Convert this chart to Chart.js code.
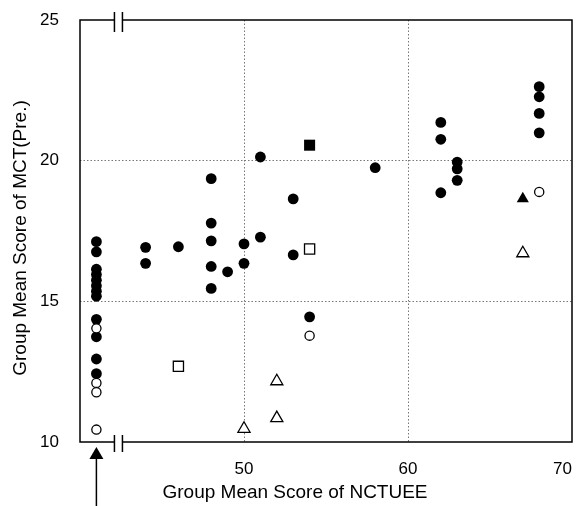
<!DOCTYPE html>
<html>
<head>
<meta charset="utf-8">
<title>Group Mean Score of MCT(Pre.) vs NCTUEE</title>
<script src="https://cdn.jsdelivr.net/npm/chart.js@4.4.0/dist/chart.umd.min.js"></script>
<style>
    html, body { margin: 0; padding: 0; background: #fff; }
    #wrap { width: 583px; height: 506px; }
</style>
</head>
<body>
<div id="wrap"><canvas id="scoreChart"></canvas></div>
<script>
/****************************** Data ********************************/
// x = group mean score of NCTUEE, y = group mean score of MCT (pre)
// x = 41 is the off-scale column (the groups marked by the arrow)
const offScaleX = 41;

const filledCircleX = [41, 41, 41, 41, 41, 41, 41, 41, 41, 41, 41, 41,
    44, 44, 46, 48, 48, 48, 48, 48, 49, 50, 50, 51, 51, 53, 53, 54, 58,
    62, 62, 62, 63, 63, 63, 68, 68, 68, 68];
const filledCircleY = [17.12, 16.76, 16.14, 15.95, 15.75, 15.55, 15.36, 15.18, 14.36, 13.74, 12.95, 12.43,
    16.92, 16.35, 16.94, 19.36, 17.78, 17.15, 16.24, 15.46, 16.05, 17.04, 16.35, 20.13, 17.28, 18.64, 16.65, 14.45, 19.75,
    21.36, 20.76, 18.86, 19.95, 19.71, 19.30, 22.63, 22.27, 21.68, 20.99];

const openCircleX = [41, 41, 41, 41, 54, 68];
const openCircleY = [14.04, 12.10, 11.77, 10.44, 13.78, 18.89];

const filledSquareX = [54];
const filledSquareY = [20.55];

const openSquareX = [46, 54];
const openSquareY = [12.69, 16.86];

const filledTriangleX = [67];
const filledTriangleY = [18.65];

const openTriangleX = [50, 52, 52, 67];
const openTriangleY = [10.47, 12.16, 10.85, 16.71];

const xMin = 40;
const xTicks = [50, 60, 70];
const yTicks = [10, 15, 20, 25];

const xTitle = 'Group Mean Score of NCTUEE';
const yTitle = 'Group Mean Score of MCT(Pre.)';

/****************************** Chart ********************************/
const FONT = '"Liberation Sans", Arial, sans-serif';

function toPoints(xs, ys) {
    return xs.map((x, i) => ({ x: x, y: ys[i] }));
}

// frame with the axis break, the arrow and the axis titles
const framePlugin = {
    id: 'frame',
    afterDraw(chart) {
        const { ctx, chartArea: a, scales: { x } } = chart;
        ctx.save();
        ctx.strokeStyle = '#000';
        ctx.fillStyle = '#000';
        ctx.lineWidth = 1.5;

        const b1 = x.getPixelForValue(42.1);
        const b2 = b1 + 8;
        ctx.beginPath();
        ctx.moveTo(b1, a.top);
        ctx.lineTo(a.left, a.top);
        ctx.lineTo(a.left, a.bottom);
        ctx.lineTo(b1, a.bottom);
        ctx.moveTo(b2, a.bottom);
        ctx.lineTo(a.right, a.bottom);
        ctx.lineTo(a.right, a.top);
        ctx.lineTo(b2, a.top);
        [b1, b2].forEach(bx => {
            ctx.moveTo(bx, a.top - 8);
            ctx.lineTo(bx, a.top + 12);
            ctx.moveTo(bx, a.bottom - 7);
            ctx.lineTo(bx, a.bottom + 10);
        });
        ctx.stroke();

        // arrow pointing at the off-scale column
        const ax = x.getPixelForValue(offScaleX);
        const tip = a.bottom + 5;
        ctx.beginPath();
        ctx.moveTo(ax, tip);
        ctx.lineTo(ax - 7, tip + 12);
        ctx.lineTo(ax + 7, tip + 12);
        ctx.closePath();
        ctx.fill();
        ctx.beginPath();
        ctx.moveTo(ax, tip + 12);
        ctx.lineTo(ax, chart.height);
        ctx.stroke();

        ctx.font = '19px ' + FONT;
        ctx.textAlign = 'center';
        ctx.textBaseline = 'middle';
        ctx.fillText(xTitle, 295, 493);
        ctx.translate(21, 238);
        ctx.rotate(-Math.PI / 2);
        ctx.fillText(yTitle, 0, 0);
        ctx.restore();
    }
};

const gridColor = (edges) => (c) =>
    edges.includes(c.tick && c.tick.value) ? 'rgba(0,0,0,0)' : '#777';

new Chart(document.getElementById('scoreChart'), {
    type: 'scatter',
    data: {
        datasets: [
            {
                data: toPoints(openCircleX, openCircleY),
                pointStyle: 'circle', pointRadius: 4.6,
                backgroundColor: '#fff', borderColor: '#000', borderWidth: 1.3
            },
            {
                data: toPoints(openSquareX, openSquareY),
                pointStyle: 'rect', pointRadius: 7.2,
                backgroundColor: '#fff', borderColor: '#000', borderWidth: 1.3
            },
            {
                data: toPoints(openTriangleX, openTriangleY),
                pointStyle: 'triangle', pointRadius: 7,
                backgroundColor: '#fff', borderColor: '#000', borderWidth: 1.3
            },
            {
                data: toPoints(filledSquareX, filledSquareY),
                pointStyle: 'rect', pointRadius: 7.8,
                backgroundColor: '#000', borderColor: '#000', borderWidth: 0
            },
            {
                data: toPoints(filledTriangleX, filledTriangleY),
                pointStyle: 'triangle', pointRadius: 7,
                backgroundColor: '#000', borderColor: '#000', borderWidth: 0
            },
            {
                data: toPoints(filledCircleX, filledCircleY),
                pointStyle: 'circle', pointRadius: 5.4,
                backgroundColor: '#000', borderColor: '#000', borderWidth: 0
            }
        ]
    },
    options: {
        responsive: true,
        maintainAspectRatio: false,
        animation: false,
        layout: { padding: { top: 20, right: 11, left: 0, bottom: 0 } },
        plugins: {
            legend: { display: false },
            tooltip: { enabled: false }
        },
        scales: {
            x: {
                type: 'linear',
                min: xMin,
                max: 70,
                // the axis start carries no label (values there are off-scale)
                afterBuildTicks: (s) => { s.ticks = [xMin].concat(xTicks).map(v => ({ value: v })); },
                afterFit: (s) => { s.height = 64; s.paddingLeft = 0; s.paddingRight = 0; },
                border: { display: false, dash: [1.5, 2] },
                grid: { color: gridColor([40, 70]), drawTicks: false, lineWidth: 1 },
                ticks: {
                    color: '#000', padding: 17, align: 'inner',
                    font: { size: 17, family: FONT },
                    callback: (v) => xTicks.includes(v) ? String(v) : ''
                }
            },
            y: {
                min: 10,
                max: 25,
                afterBuildTicks: (s) => { s.ticks = yTicks.map(v => ({ value: v })); },
                afterFit: (s) => { s.width = 80; s.paddingTop = 0; s.paddingBottom = 0; },
                border: { display: false, dash: [1.5, 2] },
                grid: { color: gridColor([10, 25]), drawTicks: false, lineWidth: 1 },
                ticks: { color: '#000', padding: 21, font: { size: 17, family: FONT } }
            }
        }
    },
    plugins: [framePlugin]
});
</script>
</body>
</html>
